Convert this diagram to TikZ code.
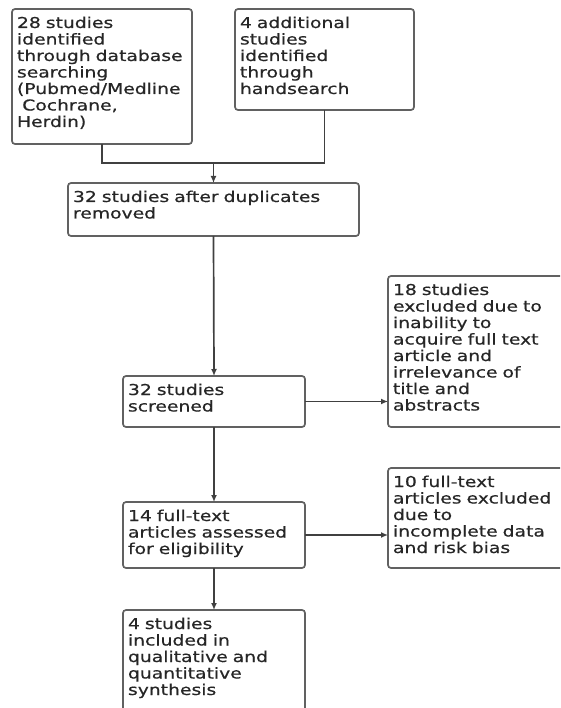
\documentclass[tikz,border=0pt]{standalone}
\usepackage{fontspec}
\setmainfont{DejaVu Sans}[FakeStretch=1.25,FakeBold=0.6]
\usetikzlibrary{arrows.meta,calc,positioning}

\begin{document}
\begin{tikzpicture}[x=1pt, y=-1pt,
					every node/.style={
						font=\fontsize{15}{16.5}\selectfont
					},
					stage/.style={draw=black!62, line width=1.7pt, rounded corners=3pt,
						anchor=north west, align=left, inner xsep=5pt, inner ysep=0pt,
						outer sep=0pt, text height=19pt, text=black!85},
					link/.style={draw=black!75, line width=1.7pt},
					arr/.style={link, -{Latex[length=7pt,width=6pt]}}
				]
				\useasboundingbox (0,0) rectangle (560,708);
				\clip (0,0) rectangle (560,708);
				% identification
				\node[stage, text width=170pt, text depth=116pt] (ident) at (12,9)
					{28 studies\\identified\\through database\\searching\\(Pubmed/Medline\\\hspace{0.35em}Cochrane,\\Herdin)};
				\node[stage, text width=169pt, text depth=82pt] (hand) at (235,9)
					{4 additional\\studies\\identified\\through\\handsearch};
				% screening
				\node[stage, text width=281pt, text depth=34pt] (dedup) at (68,183)
					{32 studies after duplicates\\removed};
				\node[stage, text width=172pt, text depth=32pt] (screen) at (123,376)
					{32 studies\\screened};
				\node[stage, text width=172pt, text depth=132pt] (excl) at (388,276)
					{18 studies\\excluded due to\\inability to\\acquire full text\\article and\\irrelevance of\\title and\\abstracts};
				% eligibility
				\node[stage, text width=172pt, text depth=47pt] (elig) at (123,502)
					{14 full-text\\articles assessed\\for eligibility};
				\node[stage, text width=172pt, text depth=81pt] (drop) at (388,468)
					{10 full-text\\articles excluded\\due to\\incomplete data\\and risk bias};
				% included
				\node[stage, text width=172pt, text depth=91pt] (incl) at (123,610)
					{4 studies\\included in\\qualitative and\\quantitative\\synthesis};

				\coordinate (lvl) at (0,163);
				\coordinate (join) at (lvl -| dedup.north);
				\draw[link] (ident.south) |- (join) -| (hand.south);
				\draw[arr] (join) -- (dedup.north);
				\draw[arr] (dedup.south) -- (screen.north);
				\draw[arr] (screen.east) -- (screen.east -| excl.west);
				\draw[arr] (screen.south) -- (elig.north);
				\draw[arr] (elig.east) -- (elig.east -| drop.west);
				\draw[arr] (elig.south) -- (incl.north);
			\end{tikzpicture}
\end{document}
